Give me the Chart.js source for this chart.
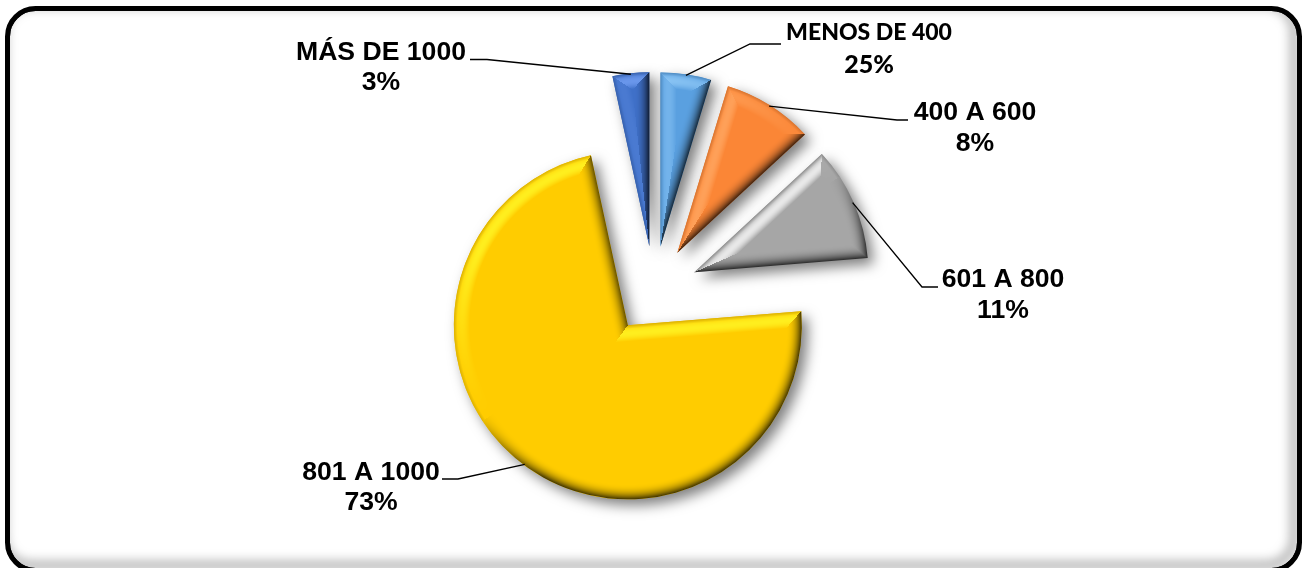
<!DOCTYPE html>
<html>
<head>
<meta charset="utf-8">
<style>html,body{margin:0;padding:0;background:#fff}canvas{display:block}</style>
<script src="https://cdn.jsdelivr.net/npm/chart.js@4/dist/chart.umd.js"></script>
</head>
<body>
<canvas id="c" width="1304" height="568"></canvas>
<script>
const categories = ["MENOS DE 400", "400 A 600", "601 A 800", "801 A 1000", "MÁS DE 1000"];
const sliceValues = [4.7, 8.4, 10.6, 72.9, 3.4];
const shownPercents = ["25%", "8%", "11%", "73%", "3%"];

const faceColors = ["#5AA0E0", "#FB8636", "#A6A6A6", "#FFCC00", "#3F70C8"];
const glowColors = [[140,198,245],[255,165,95],[232,232,232],[255,238,30],[105,150,235]];
const labelFonts = ['900 23px Lato', 'bold 26.6px "Liberation Sans"', 'bold 26.6px "Liberation Sans"', 'bold 26.6px "Liberation Sans"', 'bold 26.6px "Liberation Sans"'];
const percentFonts = ['900 25px Lato', 'bold 26.6px "Liberation Sans"', 'bold 26.6px "Liberation Sans"', 'bold 26.6px "Liberation Sans"', 'bold 26.6px "Liberation Sans"'];
const labelCenters = [[869,33,65],[975,113,144],[1003,280,311],[371,473,503],[381,53,83]];
const leaderBends = [[[750,44],[781,44]],[[897,120],[908,120]],[[922,287],[938,287]],[[458,479],[442,479]],[[487,59.5],[470,59.5]]];
const explode = 44, sliceRadius = 174, bevel = 16;

function hexRgb(h){return [1,3,5].map(i=>parseInt(h.substr(i,2),16));}
function paintBevel(ctx, arc, baseHex, glow){
  const {x,y,startAngle:a0,endAngle:a1,outerRadius:R} = arc;
  const base = hexRgb(baseHex), sweep = a1-a0, TAU = Math.PI*2;
  const L = [-0.55,-0.835];
  const left = Math.floor(x-R-2), top = Math.floor(y-R-2), size = Math.ceil(2*R+4);
  const off = document.createElement('canvas'); off.width = off.height = size;
  const oc = off.getContext('2d'), img = oc.createImageData(size,size), p = img.data;
  const n0 = [Math.sin(a0),-Math.cos(a0)], n1 = [-Math.sin(a1),Math.cos(a1)];
  for(let j=0;j<size;j++) for(let i=0;i<size;i++){
    const dx = left+i+0.5-x, dy = top+j+0.5-y, rho = Math.hypot(dx,dy);
    if(rho>R+2) continue;
    let th = (Math.atan2(dy,dx)-a0)%TAU; if(th<0) th+=TAU;
    let d, n;
    if(th>sweep){ d=0; n = (th-sweep < TAU-th) ? n1 : n0; }
    else if(th<sweep/2){ d=rho*Math.abs(Math.sin(th)); n=n0; }
    else { d=rho*Math.abs(Math.sin(sweep-th)); n=n1; }
    const dArc = R-rho;
    if(dArc<d){ d=Math.max(dArc,0); n=[dx/(rho||1),dy/(rho||1)]; }
    const t = Math.min(d/bevel,1), s = n[0]*L[0]+n[1]*L[1];
    let c = base.slice();
    if(s>0){
      const amt = Math.min(1,Math.pow(s,1.5)*1.25)*Math.sin(Math.PI*t);
      for(let k=0;k<3;k++) c[k] = base[k]+(glow[k]-base[k])*amt;
      if(t<0.22){ const e=(0.22-t)/0.22*0.14; for(let k=0;k<3;k++) c[k]*=1-e; }
    } else {
      const amt = Math.min(1,-s*1.9+0.12)*Math.pow(1-t,2.4)*0.76;
      for(let k=0;k<3;k++) c[k] = base[k]*(1-amt);
    }
    const q=(j*size+i)*4; p[q]=c[0];p[q+1]=c[1];p[q+2]=c[2];p[q+3]=255;
  }
  oc.putImageData(img,0,0);
  ctx.save();
  ctx.beginPath(); ctx.moveTo(x,y); ctx.arc(x,y,R,a0,a1); ctx.closePath(); ctx.clip();
  ctx.drawImage(off,left,top);
  ctx.restore();
}
function frame(ctx){
  const path = ()=>{ctx.beginPath();ctx.roundRect(7.5,8.5,1292,562,28);};
  ctx.save();
  path(); ctx.clip();
  ctx.shadowColor='rgba(0,0,0,0.55)'; ctx.shadowBlur=12; ctx.shadowOffsetX=-5; ctx.shadowOffsetY=-5;
  ctx.lineWidth=5; ctx.strokeStyle='#000'; path(); ctx.stroke();
  ctx.restore();
  ctx.save(); ctx.lineWidth=5; ctx.strokeStyle='#000'; path(); ctx.stroke(); ctx.restore();
}
const decor = {
  id:'decor',
  beforeDraw(chart){ const c=chart.ctx; c.save(); c.fillStyle='#fff'; c.fillRect(0,0,chart.width,chart.height); c.restore(); frame(c); },
  afterDatasetsUpdate(chart){
    chart.getDatasetMeta(0).data.forEach(a=>{
      const mid=(a.startAngle+a.endAngle)/2;
      a.x += Math.cos(mid)*explode; a.y += Math.sin(mid)*explode;
    });
  },
  beforeDatasetDraw(chart){
    const c=chart.ctx; c.save();
    c.shadowColor='rgba(0,0,0,0.5)'; c.shadowBlur=13; c.shadowOffsetX=6; c.shadowOffsetY=6;
  },
  afterDatasetDraw(chart){
    const c=chart.ctx; c.restore();
    chart.getDatasetMeta(0).data.forEach((a,i)=>paintBevel(c,a,faceColors[i],glowColors[i]));
  },
  afterDraw(chart){
    const c=chart.ctx;
    chart.getDatasetMeta(0).data.forEach((a,i)=>{
      const mid=(a.startAngle+a.endAngle)/2;
      c.save();
      c.strokeStyle='#000'; c.lineWidth=1.3; c.beginPath();
      c.moveTo(a.x+Math.cos(mid)*(a.outerRadius-1), a.y+Math.sin(mid)*(a.outerRadius-1));
      leaderBends[i].forEach(b=>c.lineTo(b[0],b[1]));
      c.stroke();
      c.fillStyle='#000'; c.textAlign='center'; c.textBaseline='middle';
      const [lx,ly1,ly2]=labelCenters[i];
      c.font=labelFonts[i];
      c.fillText(categories[i],lx,ly1);
      c.font=percentFonts[i];
      c.fillText(shownPercents[i],lx,ly2);
      c.restore();
    });
  }
};
new Chart(document.getElementById('c'),{
  type:'pie',
  data:{labels:categories,datasets:[{data:sliceValues,backgroundColor:faceColors,borderWidth:0,radius:sliceRadius}]},
  options:{
    responsive:false,animation:false,devicePixelRatio:1,events:[],
    layout:{padding:{left:4,top:12,right:0,bottom:0}},
    plugins:{legend:{display:false},title:{display:false},tooltip:{enabled:false}}
  },
  plugins:[decor]
});
</script>
</body>
</html>
